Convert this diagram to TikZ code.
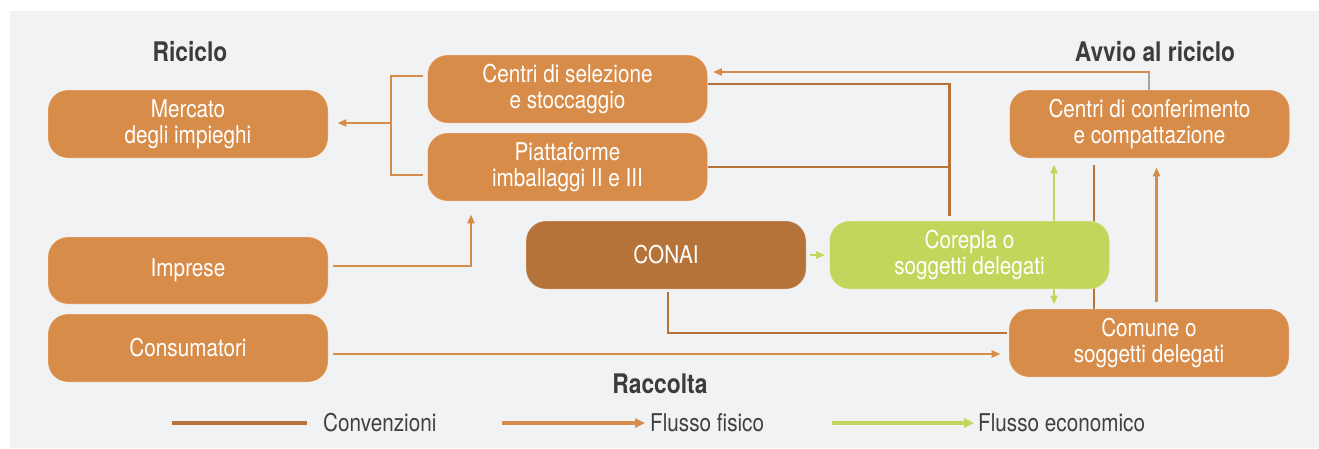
\documentclass[tikz,border=0pt]{standalone}
\usepackage{fontspec}
\setmainfont{TeX Gyre Heros}[FakeStretch=0.845]
\usetikzlibrary{arrows.meta,backgrounds}
\definecolor{boxor}{HTML}{D88C49}
\definecolor{boxbr}{HTML}{B5733A}
\definecolor{boxgr}{HTML}{C3D55B}
\definecolor{panel}{HTML}{F1F2F4}
\definecolor{headc}{HTML}{3C3C3E}
\definecolor{legc}{HTML}{404042}
\definecolor{greyl}{HTML}{A3A4A6}
\begin{document}
\begin{tikzpicture}[x=1pt,y=-1pt,
  box/.style={rounded corners=20pt, fill=boxor, draw=white, draw opacity=0.3, line width=0.8pt,
    minimum width=280pt, minimum height=68pt, inner sep=0pt, text=white, align=center,
    font=\fontsize{24.5}{26}\selectfont},
  head/.style={text=headc, font=\fontsize{27}{28}\selectfont\bfseries, inner sep=0pt},
  legtext/.style={text=legc, font=\fontsize{24.5}{26}\selectfont, inner sep=0pt, anchor=west},
  flow/.style={draw=boxor, line width=2.4pt},
  conv/.style={draw=boxbr, line width=2.3pt},
  econ/.style={draw=boxgr, line width=2.7pt},
  tip/.style={-{Triangle[length=9pt,width=7pt]}},
  legline/.style={line width=4pt}
]
\useasboundingbox (0,0) rectangle (1319,448);

% headers
\node[head] (riciclo) at (190,52) {Riciclo};
\node[head] (avvio) at (1155,52) {Avvio al riciclo};
\node[head] (raccolta) at (660,384) {Raccolta};

% boxes
\node[box] (merc) at (188,124) {Mercato\\degli impieghi};
\node[box] (sel) at (567.5,89) {Centri di selezione\\e stoccaggio};
\node[box] (piat) at (567.5,167) {Piattaforme\\imballaggi II e III};
\node[box, minimum height=67pt] (impr) at (188,270.5) {Imprese};
\node[box] (cons) at (188,348) {Consumatori};
\node[box, fill=boxbr] (conai) at (666,255) {CONAI};
\node[box, fill=boxgr] (corepla) at (969.5,255) {Corepla o\\soggetti delegati};
\node[box] (conf) at (1149.5,124) {Centri di conferimento\\e compattazione};
\node[box] (comune) at (1149,343) {Comune o\\soggetti delegati};

% legend texts
\node[legtext] (lconv) at (323,423) {Convenzioni};
\node[legtext] (lfis) at (650,423) {Flusso fisico};
\node[legtext] (leco) at (978,423) {Flusso economico};

% helper coordinates
\coordinate (brk) at (391,123);
\coordinate (topc) at (1149,72);
\coordinate (cj) at (949.5,84);
\coordinate (gx) at (1054,0);
\coordinate (bx) at (1094,0);
\coordinate (ox) at (1156.5,0);
\coordinate (cy) at (668,333);
\coordinate (ky) at (0,354);
\coordinate (iy) at (471,266);
\coordinate (l1) at (172,423);
\coordinate (l2) at (502,423);
\coordinate (l3) at (832,423);

\begin{scope}[on background layer]
\fill[panel] (10,11) rectangle (1319,448);

% bracket from selezione / piattaforme to mercato
\draw[flow] ([shift={(-4,-13)}]sel.west) -| (brk) |- ([shift={(-4,8)}]piat.west);
\draw[flow, tip, shorten >=9pt] (brk) -- (brk -| merc.east);

% conferimento to selezione
\draw[draw=greyl, line width=2.4pt] (conf.north -| topc) -- (topc);
\draw[flow, tip, shorten >=5pt] ([xshift=1.2pt]topc) -- (topc -| sel.east);

% convenzioni Corepla - selezione / piattaforme
\draw[conv, shorten >=5pt] (sel.east |- cj) -- (cj) -- (cj |- corepla.north);
\draw[conv] (piat.east) -- (piat.east -| cj);

% CONAI -> Corepla
\draw[econ, tip, shorten <=4pt, shorten >=4pt] (conai.east) -- (corepla.west);
% Corepla up / down
\draw[econ, tip, shorten >=6pt] (corepla.north -| gx) -- (conf.south -| gx);
\draw[econ, tip, shorten >=4pt] (corepla.south -| gx) -- (comune.north -| gx);

% convenzione conferimento - comune
\draw[conv, shorten <=7pt] (conf.south -| bx) -- (comune.north -| bx);
% comune -> conferimento
\draw[flow, tip, shorten <=7pt, shorten >=9pt] (comune.north -| ox) -- (conf.south -| ox);

% CONAI - comune
\draw[conv, shorten <=3pt, shorten >=1.5pt] (conai.south -| cy) -- (cy) -- (cy -| comune.west);

% consumatori -> comune
\draw[flow, tip, shorten <=5pt, shorten >=8pt] (cons.east |- ky) -- (comune.west |- ky);

% imprese -> piattaforme
\draw[flow, tip, shorten <=5pt, shorten >=13pt] (impr.east |- iy) -| (piat.south -| iy);

% legend
\draw[conv, legline, shorten >=16pt] (l1) -- (lconv.west);
\draw[flow, legline, -{Triangle[length=10pt,width=9pt]}, shorten >=5pt] (l2) -- (lfis.west);
\draw[econ, legline, -{Triangle[length=10pt,width=9pt]}, shorten >=4pt] (l3) -- (leco.west);
\end{scope}
\end{tikzpicture}
\end{document}
